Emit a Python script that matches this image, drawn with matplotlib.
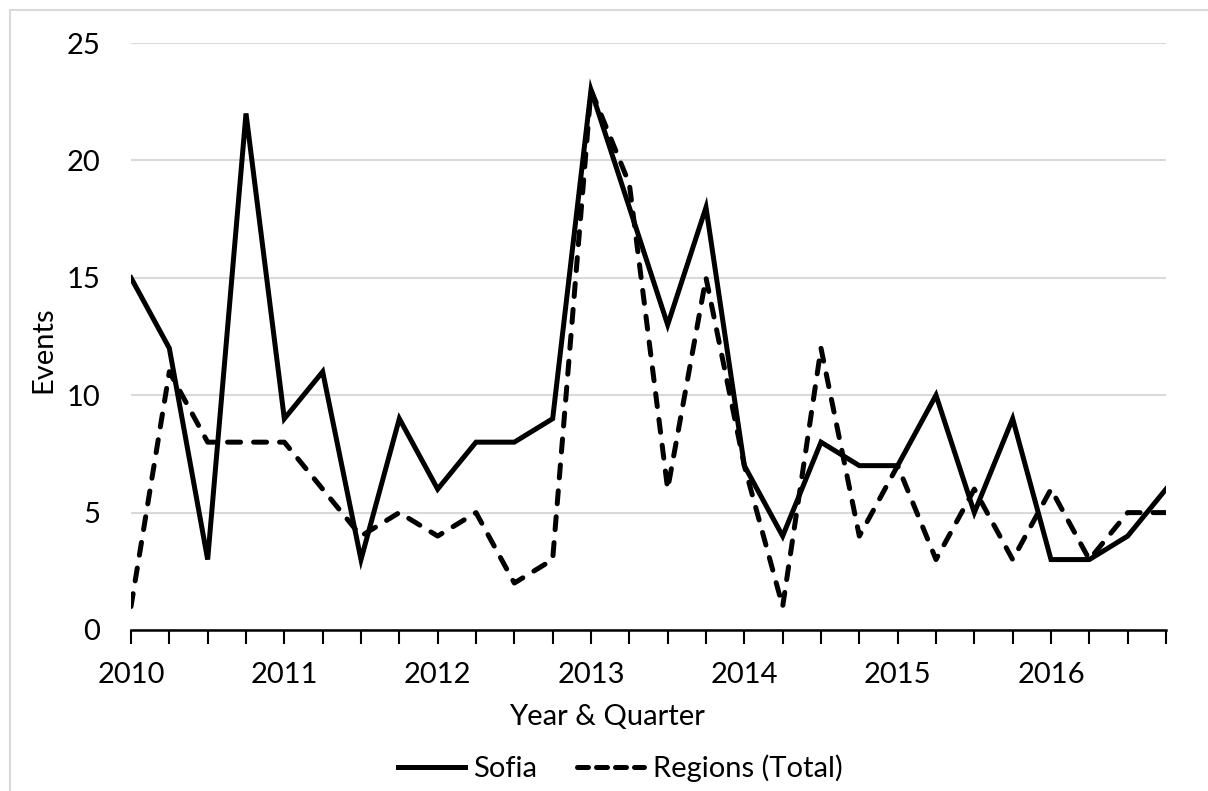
import matplotlib.pyplot as plt
from matplotlib.lines import Line2D

# Quarterly event counts, 2010 Q1 - 2016 Q4
years = [2010, 2011, 2012, 2013, 2014, 2015, 2016]
sofia = [15, 12, 3, 22, 9, 11, 3, 9, 6, 8, 8, 9, 23, 18,
         13, 18, 7, 4, 8, 7, 7, 10, 5, 9, 3, 3, 4, 6]
regions = [1, 11, 8, 8, 8, 6, 4, 5, 4, 5, 2, 3, 23, 19,
           6, 15, 7, 1, 12, 4, 7, 3, 6, 3, 6, 3, 5, 5]

plt.rcParams['font.family'] = ['Lato', 'DejaVu Sans']
FS = 21

fig = plt.figure(figsize=(12.08, 7.91), dpi=100)
ax = fig.add_axes([131 / 1208, 1 - 630 / 791, (1166 - 131) / 1208, (630 - 43) / 791])

x = list(range(len(sofia)))
ax.plot(x, sofia, color='black', lw=3.6, solid_joinstyle='miter', label='Sofia', zorder=3)
ax.plot(x, regions, color='black', lw=3.6, dashes=(2.6, 2.6), dash_capstyle='round',
        label='Regions (Total)', zorder=3)

ax.set_xlim(0, len(sofia) - 1)
ax.set_ylim(0, 25)
ax.set_yticks([0, 5, 10, 15, 20, 25])
ax.yaxis.grid(True, color='#d9d9d9', lw=1.5)
ax.set_axisbelow(True)

# ticks every quarter, label every year
ax.set_xticks(x, minor=True)
ax.set_xticks([i * 4 for i in range(len(years))])
ax.set_xticklabels([str(y) for y in years])
ax.tick_params(axis='x', which='both', direction='out', length=10, width=1.5,
               color='black', labelsize=FS, pad=13)
ax.tick_params(axis='y', length=0, labelsize=FS, pad=22)

for s in ['top', 'right', 'left']:
    ax.spines[s].set_visible(False)
ax.spines['bottom'].set_linewidth(1.8)

# axis titles sit centred on the chart area, not on the plot area
ax.set_xlabel('Year & Quarter', fontsize=FS)
ax.xaxis.set_label_coords((607 - 131) / 1035, (630 - 704) / 587)
ax.set_ylabel('Events', fontsize=FS)
ax.yaxis.set_label_coords((56 - 131) / 1035, (630 - 350) / 587)

handles = [Line2D([], [], color='black', lw=3.6),
           Line2D([], [], color='black', lw=3.6, dashes=(2.2, 1.6), dash_capstyle='round')]
fig.legend(handles, ['Sofia', 'Regions (Total)'], loc='center', bbox_to_anchor=(620 / 1208, 1 - 768 / 791),
           ncol=2, frameon=False, fontsize=FS, handlelength=2.3, handletextpad=0.3,
           columnspacing=1.35)

# chart area border
fig.add_artist(Line2D([10 / 1208, 10 / 1208], [0, 1 - 10 / 791], color='#d9d9d9', lw=1.5))
fig.add_artist(Line2D([10 / 1208, 1], [1 - 10 / 791, 1 - 10 / 791], color='#d9d9d9', lw=1.5))

fig.savefig('out.png', dpi=100)
